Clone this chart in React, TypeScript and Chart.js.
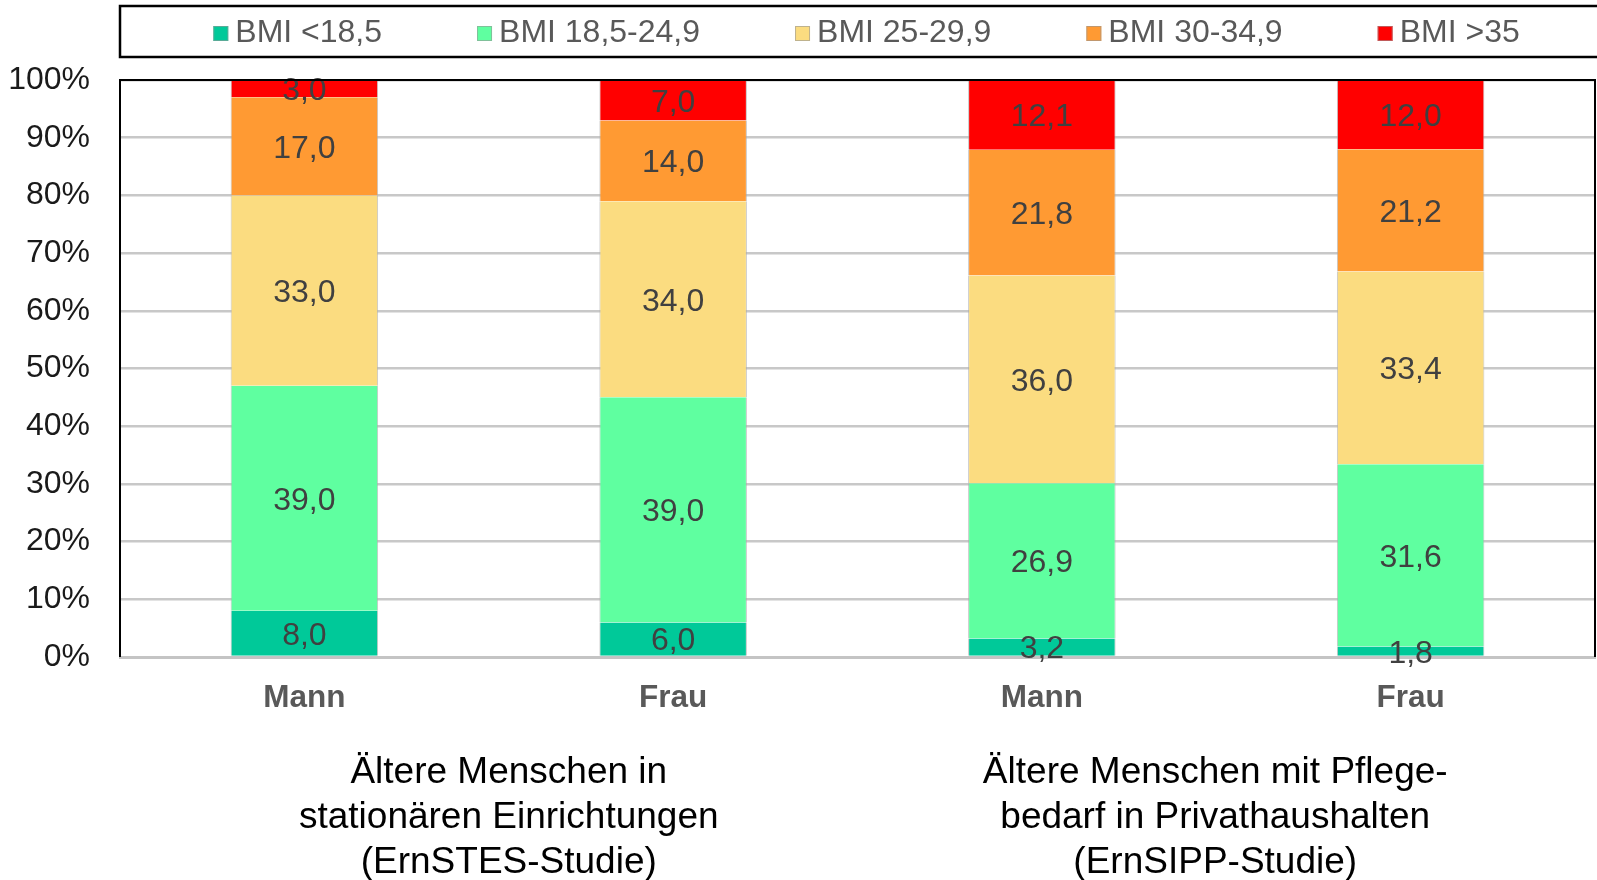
import React, { useEffect, useRef } from "react";
import { Chart, registerables } from "chart.js";

Chart.register(...registerables);

const categories = ["Mann", "Frau", "Mann", "Frau"];
const seriesNames = ["BMI <18,5", "BMI 18,5-24,9", "BMI 25-29,9", "BMI 30-34,9", "BMI >35"];
const bmiUnder185 = [8.0, 6.0, 3.2, 1.8];
const bmi185to249 = [39.0, 39.0, 26.9, 31.6];
const bmi25to299 = [33.0, 34.0, 36.0, 33.4];
const bmi30to349 = [17.0, 14.0, 21.8, 21.2];
const bmiOver35 = [3.0, 7.0, 12.1, 12.0];
const seriesColors = ["#00C999", "#5FFFA0", "#FBDC80", "#FF9A33", "#FF0000"];
const yTicks = [0, 10, 20, 30, 40, 50, 60, 70, 80, 90, 100];
const groupLabels = [
  ["Ältere Menschen in", "stationären Einrichtungen", "(ErnSTES-Studie)"],
  ["Ältere Menschen mit Pflege-", "bedarf in Privathaushalten", "(ErnSIPP-Studie)"],
];

const FONT = "'Liberation Sans', Arial, sans-serif";

const dataLabelsPlugin = {
  id: "dataLabels",
  afterDatasetsDraw(chart: any) {
    const ctx = chart.ctx;
    ctx.save();
    ctx.font = `32px ${FONT}`;
    ctx.fillStyle = "#404040";
    ctx.textAlign = "center";
    ctx.textBaseline = "middle";
    chart.data.datasets.forEach((ds: any, i: number) => {
      const meta = chart.getDatasetMeta(i);
      meta.data.forEach((el: any, j: number) => {
        const v = ds.data[j];
        const { x, y, base } = el.getProps(["x", "y", "base"], true);
        ctx.fillText(v.toFixed(1).replace(".", ","), x, (y + base) / 2 + 2.5);
      });
    });
    ctx.restore();
  },
};

const frameAndLegendPlugin = {
  id: "frameAndLegend",
  afterDraw(chart: any) {
    const ctx = chart.ctx;
    const { left, right, top, bottom } = chart.chartArea;
    ctx.save();
    // plot frame (top, left, right)
    ctx.strokeStyle = "#000";
    ctx.lineWidth = 2;
    ctx.beginPath();
    ctx.moveTo(left, bottom);
    ctx.lineTo(left, top);
    ctx.lineTo(right, top);
    ctx.lineTo(right, bottom);
    ctx.stroke();

    // legend box
    const boxTop = 6;
    const boxBottom = 57;
    ctx.lineWidth = 2.5;
    ctx.strokeRect(left, boxTop, chart.width - left + 10, boxBottom - boxTop);

    // legend items
    ctx.font = `32px ${FONT}`;
    ctx.textBaseline = "middle";
    ctx.textAlign = "left";
    const sq = 15;
    const sqGap = 7;
    const itemGap = 95;
    const widths = seriesNames.map((n) => ctx.measureText(n).width);
    const total = widths.reduce((a, w) => a + sq + sqGap + w, 0) + itemGap * (seriesNames.length - 1);
    let x = (left + chart.width) / 2 - total / 2 + 8;
    const cy = (boxTop + boxBottom) / 2 + 2;
    seriesNames.forEach((n, i) => {
      ctx.fillStyle = seriesColors[i];
      ctx.fillRect(x, cy - sq / 2, sq, sq);
      ctx.strokeStyle = "rgba(150,150,150,0.6)";
      ctx.lineWidth = 1;
      ctx.strokeRect(x + 0.5, cy - sq / 2 + 0.5, sq - 1, sq - 1);
      ctx.fillStyle = "#595959";
      ctx.fillText(n, x + sq + sqGap, cy);
      x += sq + sqGap + widths[i] + itemGap;
    });

    // group labels
    const xs = chart.scales.x;
    const nudges = [20, -11];
    ctx.font = `37px ${FONT}`;
    ctx.fillStyle = "#000";
    ctx.textAlign = "center";
    groupLabels.forEach((lines, g) => {
      const cx = (xs.getPixelForValue(g * 2) + xs.getPixelForValue(g * 2 + 1)) / 2 + nudges[g];
      lines.forEach((line, k) => {
        ctx.fillText(line, cx, bottom + 116 + k * 45);
      });
    });
    ctx.restore();
  },
};

export default function App() {
  const ref = useRef<HTMLCanvasElement | null>(null);
  useEffect(() => {
    if (!ref.current) return;
    const seriesData = [bmiUnder185, bmi185to249, bmi25to299, bmi30to349, bmiOver35];
    const chart = new Chart(ref.current, {
      type: "bar",
      data: {
        labels: categories,
        datasets: seriesData.map((d, i) => ({
          label: seriesNames[i],
          data: d,
          backgroundColor: seriesColors[i],
          borderColor: "rgba(170,170,170,0.7)",
          borderWidth: { left: 1, right: 1, top: 0, bottom: 0 },
          borderSkipped: false,
          barPercentage: 0.4,
          categoryPercentage: 1.0,
        })),
      },
      options: {
        responsive: false,
        animation: false,
        devicePixelRatio: 1,
        layout: { padding: { top: 80, right: 2, left: 0, bottom: 0 } },
        plugins: {
          legend: { display: false },
          tooltip: { enabled: false },
        },
        scales: {
          x: {
            stacked: true,
            grid: { display: false, drawTicks: false },
            border: { display: true, color: "#c4c4c4", width: 3 },
            ticks: {
              padding: 22,
              color: "#595959",
              font: { family: FONT, size: 31.5, weight: "bold" },
            },
            afterFit(scale: any) {
              scale.height = 223;
            },
          },
          y: {
            stacked: true,
            min: 0,
            max: 100,
            afterBuildTicks(scale: any) {
              scale.ticks = yTicks.map((v) => ({ value: v }));
            },
            grid: { color: "#c8c8c8", lineWidth: 2.5, drawTicks: false },
            border: { display: false },
            ticks: {
              padding: 30,
              color: "#1a1a1a",
              font: { family: FONT, size: 32, lineHeight: 1.0 },
              callback: (v: any) => `${v}%`,
            },
            afterFit(scale: any) {
              scale.width = 120;
            },
          },
        },
      },
      plugins: [dataLabelsPlugin, frameAndLegendPlugin],
    });
    return () => chart.destroy();
  }, []);
  return (
    <div style={{ position: "fixed", left: 0, top: 0, width: 1597, height: 880, background: "#fff" }}>
      <canvas ref={ref} width={1597} height={880} style={{ display: "block" }} />
    </div>
  );
}
